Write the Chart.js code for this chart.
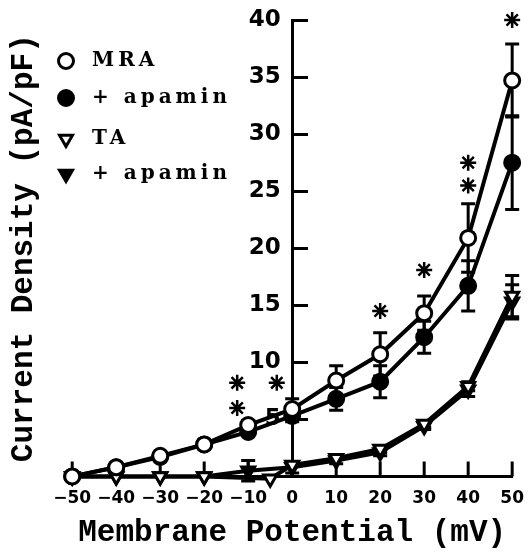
<!DOCTYPE html>
<html>
<head>
<meta charset="utf-8">
<script src="https://cdn.jsdelivr.net/npm/chart.js@4/dist/chart.umd.min.js"></script>
<style>
  html, body { margin: 0; padding: 0; background: #fff; }
  #wrap { width: 530px; height: 557px; }
</style>
</head>
<body>
<div id="wrap"><canvas id="iv" width="530" height="557"></canvas></div>
<script>
// membrane potential steps (mV)
const potentials = [-50, -40, -30, -20, -10, 0, 10, 20, 30, 40, 50];

// MRA cells, control and + apamin (pA/pF, mean +/- sem)
const mraCtl    = [0.0, 0.8, 1.8, 2.8, 4.5, 5.9, 8.4, 10.7, 14.3, 20.9, 34.7];
const mraCtlErr = [0, 0.3, 0.3, 0.3, 0.4, 0.9, 1.3, 1.9, 1.5, 3.0, 3.2];
const mraApa    = [0.0, 0.8, 1.7, 2.8, 3.9, 5.3, 6.8, 8.3, 12.2, 16.7, 27.5];
const mraApaErr = [0, 0.3, 0.3, 0.3, 0.3, 0.5, 1.0, 1.4, 1.4, 2.2, 4.1];

// TA cells, control and + apamin
const taCtlX   = [-50, -40, -30, -20, -5, 0, 10, 20, 30, 40, 50];
const taCtl    = [0.0, 0.0, 0.0, 0.0, -0.2, 1.0, 1.6, 2.4, 4.6, 7.9, 15.8];
const taCtlErr = [0, 0, 0, 0, 0, 0, 0, 0.3, 0.3, 0.4, 1.8];
const taApa    = [0.0, 0.0, 0.0, 0.0, 0.5, 0.8, 1.4, 2.1, 4.4, 7.6, 15.3];
const taApaErr = [0, 0, 0, 0, 0.9, 0.5, 0.3, 0.3, 0.3, 0.6, 1.5];

// significance markers
const starX = [-12.5, -12.5, -3.5, 20, 30, 40, 40, 50];
const starY = [8.2, 6.0, 8.2, 14.5, 18.1, 27.5, 25.5, 40.0];

const seriesLabels = ['MRA', '+ apamin', 'TA', '+ apamin'];

const pts = (xs, ys) => xs.map((v, i) => ({ x: v, y: ys[i] }));

function series(label, xs, ys, errs, style, fill, rot) {
    return {
        label, data: pts(xs, ys), errors: errs,
        showLine: true, borderColor: '#000', borderWidth: 4,
        pointStyle: style, pointRotation: rot || 0,
        pointRadius: 7.5, pointBorderWidth: 3,
        pointBackgroundColor: fill, pointBorderColor: '#000',
        clip: false
    };
}

// x ticks point up into the plot; sem bars with caps sit under the markers
const errorBars = {
    id: 'errorBars',
    beforeDatasetsDraw(chart) {
        const { ctx, scales: { x, y } } = chart;
        ctx.save();
        ctx.strokeStyle = '#000';
        ctx.lineWidth = 3;
        ctx.beginPath();
        x.ticks.forEach(t => {
            const px = x.getPixelForValue(t.value);
            ctx.moveTo(px, x.top);
            ctx.lineTo(px, x.top - 15);
        });
        ctx.stroke();
        chart.data.datasets.forEach(ds => {
            if (!ds.errors) return;
            ds.data.forEach((p, i) => {
                const e = ds.errors[i];
                if (!e) return;
                const px = x.getPixelForValue(p.x);
                const t = y.getPixelForValue(p.y + e);
                const b = y.getPixelForValue(p.y - e);
                ctx.beginPath();
                ctx.moveTo(px, t); ctx.lineTo(px, b);
                ctx.moveTo(px - 7, t); ctx.lineTo(px + 7, t);
                ctx.moveTo(px - 7, b); ctx.lineTo(px + 7, b);
                ctx.stroke();
            });
        });
        ctx.restore();
    }
};

// symbol key in the upper left corner
const keyBox = {
    id: 'keyBox',
    afterDraw(chart) {
        const ctx = chart.ctx;
        const rows = [61, 98, 139, 174];
        ctx.save();
        ctx.textBaseline = 'middle';
        ctx.font = 'bold 20px "DejaVu Serif"';
        ctx.letterSpacing = '4px';
        seriesLabels.forEach((lbl, i) => {
            const ds = chart.data.datasets[i];
            ctx.fillStyle = ds.pointBackgroundColor;
            ctx.strokeStyle = '#000';
            ctx.lineWidth = 3;
            Chart.helpers.drawPoint(ctx, {
                pointStyle: ds.pointStyle, rotation: ds.pointRotation,
                radius: 7.5, borderWidth: 3
            }, 66, rows[i]);
            ctx.fillStyle = '#000';
            ctx.fillText(lbl, 92, rows[i]);
        });
        ctx.restore();
    }
};

const datasets = [
    series('MRA', potentials, mraCtl, mraCtlErr, 'circle', '#fff'),
    series('+ apamin', potentials, mraApa, mraApaErr, 'circle', '#000'),
    series('TA', taCtlX, taCtl, taCtlErr, 'triangle', '#fff', 180),
    series('+ apamin', potentials, taApa, taApaErr, 'triangle', '#000', 180),
    {
        label: 'p', data: pts(starX, starY), showLine: false,
        pointStyle: 'star', pointRadius: 8, pointBorderWidth: 2.5,
        pointBorderColor: '#000', pointBackgroundColor: '#000', clip: false
    }
];

const titleFont = { family: 'Liberation Mono', weight: 'bold', size: 31 };

new Chart(document.getElementById('iv'), {
    type: 'scatter',
    data: { datasets },
    plugins: [errorBars, keyBox],
    options: {
        responsive: false,
        animation: false,
        devicePixelRatio: 1,
        layout: { padding: { top: 20, right: 0, left: 0, bottom: 0 } },
        plugins: { legend: { display: false }, tooltip: { enabled: false } },
        scales: {
            x: {
                type: 'linear', position: 'bottom', min: -50, max: 50,
                grid: { drawOnChartArea: false, tickLength: 6, tickColor: 'rgba(0,0,0,0)' },
                border: { color: '#000', width: 3 },
                ticks: {
                    stepSize: 10, color: '#000', padding: 6,
                    font: { family: 'DejaVu Sans', weight: 'bold', size: 17 },
                    callback: v => v < 0 ? '\u2212' + Math.abs(v) : String(v)
                },
                title: {
                    display: true, text: 'Membrane Potential (mV)', color: '#000',
                    font: titleFont, padding: { top: 0, bottom: 5 }
                }
            },
            y: {
                type: 'linear', position: { x: 0 }, min: 0, max: 40,
                grid: { drawOnChartArea: false, color: '#000', lineWidth: 3, tickLength: -17 },
                border: { color: '#000', width: 3 },
                ticks: {
                    stepSize: 5, color: '#000',
                    font: { family: 'DejaVu Sans', weight: 'bold', size: 23 },
                    // en space keeps the labels clear of the axis line
                    callback: v => v === 0 ? '' : v + '\u2002'
                }
            },
            yTitle: {
                type: 'linear', position: 'left', min: 0, max: 40,
                grid: { display: false }, border: { display: false },
                ticks: { display: false },
                title: {
                    display: true, text: 'Current Density (pA/pF)', color: '#000',
                    font: titleFont, padding: { top: 6, bottom: 21 }
                }
            }
        }
    }
});
</script>
</body>
</html>
